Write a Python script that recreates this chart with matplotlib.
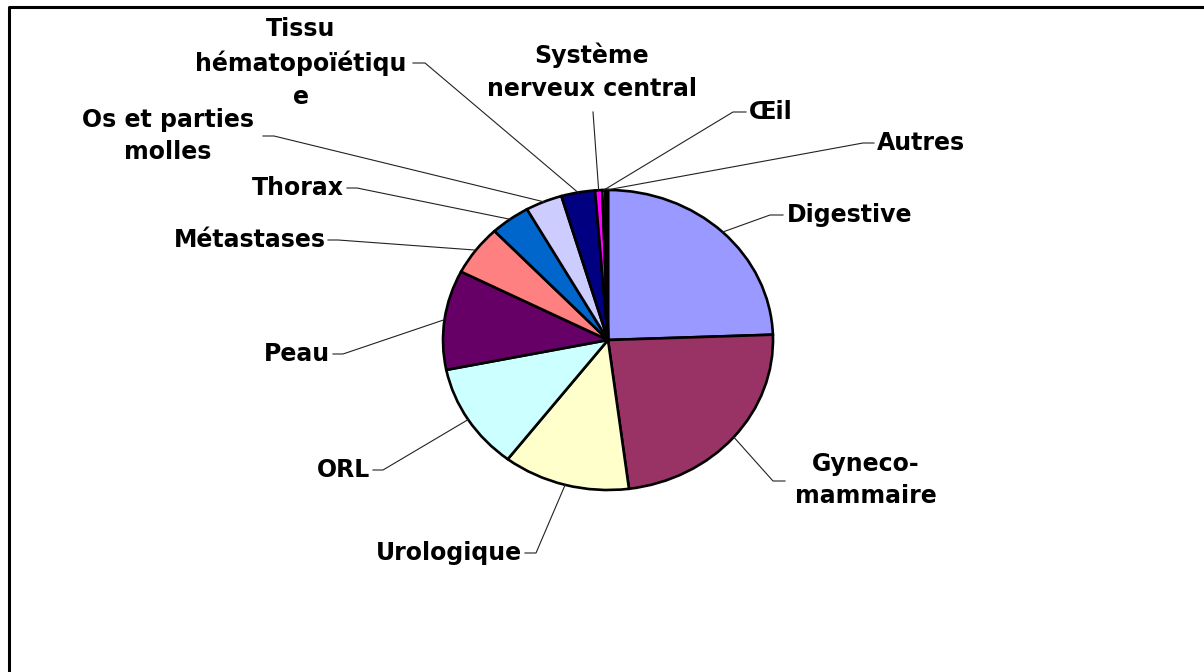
import matplotlib
matplotlib.use("Agg")
import matplotlib.pyplot as plt
import numpy as np

labels = ["Digestive", "Gyneco-\nmammaire", "Urologique", "ORL", "Peau",
          "Métastases", "Thorax", "Os et parties\nmolles",
          "Tissu\nhématopoïétiqu\ne", "Système\nnerveux central", "Œil", "Autres"]
values = [24.4, 23.5, 12.4, 11.4, 10.7, 5.4, 3.9, 3.6, 3.3, 0.7, 0.3, 0.25]
colors = ["#9999FF", "#993366", "#FFFFCC", "#CCFFFF", "#660066", "#FF8080",
          "#0066CC", "#CCCCFF", "#000080", "#FF00FF", "#FFFF00", "#00FFFF"]

# label layout in pixels: (elbow of leader, end of stub, text x, text y, ha)
layout = [
    ((770, 215), (783, 215), 787, 215, "left"),
    ((773, 481), (785, 481), 866, 480, "center"),
    ((536, 553), (525, 553), 522, 553, "right"),
    ((383, 470), (373, 470), 370, 470, "right"),
    ((343, 354), (333, 354), 330, 354, "right"),
    ((338, 240), (328, 240), 326, 240, "right"),
    ((357, 188), (347, 188), 344, 188, "right"),
    ((274, 136), (263, 136), 168, 136, "center"),
    ((425, 63), (413, 63), 301, 63, "center"),
    ((593, 112), (593, 112), 592, 72, "center"),
    ((733, 112), (746, 112), 749, 112, "left"),
    ((863, 143), (874, 143), 877, 143, "left"),
]

W, H = 1204, 672
cx, cy, rx, ry = 608, 340, 165, 150

fig = plt.figure(figsize=(W / 100, H / 100), dpi=100)
fig.patch.set_facecolor("white")

# pie in its own axes, stretched to an ellipse
pax = fig.add_axes([(cx - rx) / W, (H - cy - ry) / H, 2 * rx / W, 2 * ry / H])
wedges, _ = pax.pie(values, colors=colors, startangle=90, counterclock=False,
                    radius=1, wedgeprops=dict(edgecolor="black", linewidth=1.9))
pax.set_aspect("auto")
pax.set_xlim(-1, 1)
pax.set_ylim(-1, 1)
pax.axis("off")

# overlay in pixel coordinates
ax = fig.add_axes([0, 0, 1, 1])
ax.set_xlim(0, W)
ax.set_ylim(H, 0)
ax.axis("off")

# frame
ax.plot([9, 9, W + 10], [H + 10, 7, 7], color="black", lw=2.2, clip_on=False)

for w, lab, (elbow, stub, tx, ty, ha) in zip(wedges, labels, layout):
    theta = np.deg2rad((w.theta1 + w.theta2) / 2)
    px = cx + rx * np.cos(theta)
    py = cy - ry * np.sin(theta)
    ax.plot([px, elbow[0], stub[0]], [py, elbow[1], stub[1]],
            color="#222222", lw=0.8)
    ax.text(tx, ty, lab, ha=ha, va="center", multialignment="center",
            fontsize=17, fontweight="bold", family="DejaVu Sans",
            linespacing=1.45)

fig.savefig("out.png", dpi=100)
